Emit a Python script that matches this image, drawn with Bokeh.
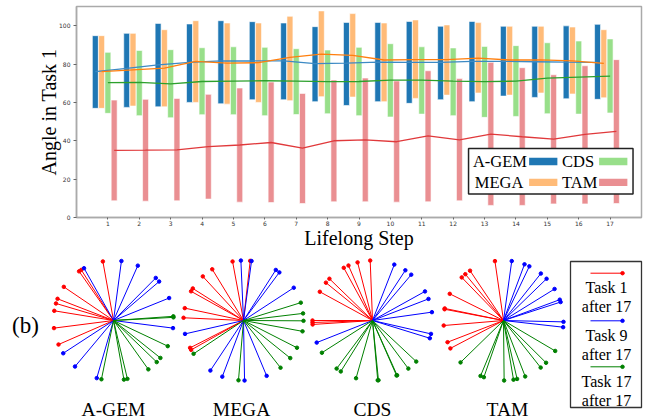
import math
from bokeh.plotting import figure
from bokeh.models import FixedTicker, Label, Range1d
from bokeh.core.properties import value
from bokeh.embed import file_html
from bokeh.resources import INLINE

# ---------------- data: panel (a) ----------------
steps = list(range(1, 18))
step_labels = [str(s) for s in steps]
y_ticks = [0, 20, 40, 60, 80, 100]

agem_top = [94.8, 96.0, 101.2, 100.9, 102.6, 102.1, 101.4, 99.5, 101.7, 101.7, 102.2, 99.7, 102.2, 99.7, 99.7, 99.9, 100.7]
agem_bot = [56.9, 57.4, 57.7, 60.0, 59.3, 61.4, 61.4, 60.4, 58.4, 60.4, 59.5, 61.4, 60.4, 63.3, 62.6, 61.9, 61.6]
agem_mean = [76.0, 77.7, 79.6, 80.9, 81.7, 81.6, 81.7, 80.2, 80.5, 81.0, 80.9, 80.9, 81.4, 81.4, 81.2, 81.0, 80.9]

mega_top = [94.8, 96.0, 97.9, 102.6, 101.4, 101.4, 104.9, 107.7, 106.3, 101.4, 103.0, 100.4, 101.6, 99.7, 99.7, 99.3, 97.9]
mega_bot = [56.9, 58.1, 57.7, 60.0, 59.1, 60.0, 60.9, 63.0, 62.8, 60.4, 62.1, 63.8, 64.9, 63.8, 64.9, 64.4, 62.4]
mega_mean = [76.0, 77.0, 77.9, 81.4, 80.5, 80.7, 83.5, 85.2, 84.5, 82.1, 82.3, 82.3, 83.1, 82.1, 82.2, 81.7, 80.3]

cds_top = [86.1, 87.1, 87.5, 88.5, 89.0, 88.7, 88.0, 87.3, 88.7, 90.6, 89.0, 88.4, 89.2, 89.6, 91.1, 92.0, 93.1]
cds_bot = [54.3, 53.1, 52.0, 53.6, 53.6, 53.1, 53.7, 54.1, 53.1, 52.4, 53.9, 53.1, 52.2, 52.7, 54.1, 53.9, 54.5]
cds_mean = [70.3, 70.4, 69.7, 70.9, 71.1, 71.3, 71.1, 70.8, 70.9, 71.6, 71.6, 71.1, 70.8, 71.1, 72.7, 73.2, 73.7]

tam_top = [61.2, 61.6, 62.1, 64.2, 67.5, 70.6, 64.7, 71.7, 72.7, 71.2, 76.5, 72.4, 80.9, 78.1, 74.4, 79.1, 82.3]
tam_bot = [8.7, 8.5, 8.7, 9.6, 8.0, 7.8, 7.3, 8.2, 8.2, 8.0, 8.2, 8.7, 6.3, 6.3, 7.1, 7.1, 7.3]
tam_mean = [35.0, 35.1, 35.3, 37.0, 37.8, 39.1, 36.2, 40.0, 40.5, 39.5, 42.5, 40.5, 43.5, 42.1, 40.9, 43.3, 44.9]

method_names = ["A-GEM", "MEGA", "CDS", "TAM"]

# ---------------- data: panel (b), directions in degrees ----------------
agem_t1 = [100.2, 122.5, 125.0, 145.9, 158.8, 163.5, 170.7, 187.3, 203.6]
agem_t9 = [119.4, 82.4, 66.1, 45.2, 40.5, 22.0, -7.3, 213.1, 230.1, 253.8]
agem_t17 = [3.0, 4.0, -25.3, -38.6, -43.9, -54.5, -76.6, -80.0, -101.6]

mega_t1 = [100.5, 83.6, 121.4, 132.7, 147.7, 150.9, 168.1, 177.4, 207.1, 209.3]
mega_t9 = [92.5, 82.3, 57.4, 53.3, 33.1, 192.9, 236.5, 249.3, -89.0, -67.3]
mega_t17 = [17.3, 6.8, -0.3, -10.4, -27.0, -38.8, -51.9, -94.8, 213.7]

cds_t1 = [92.2, 104.4, 113.6, 118.6, 135.9, 140.9, 151.4, 180.0, 181.9, 183.8]
cds_t9 = [68.7, 56.8, 49.8, 29.0, 21.1, 8.0, -12.9, -17.2, 201.6]
cds_t17 = [212.5, 233.3, 238.1, 254.1, -85.0, -84.3, -66.4, -65.8, -53.3, -43.2]

tam_t1 = [98.2, 123.9, 129.5, 134.1, 153.6, 168.4, 169.2, 184.8, 201.2, 207.7]
tam_t9 = [82.1, 69.5, 64.5, 51.5, 44.1, 31.7, 20.3, 17.9, -1.3, -6.4]
tam_t17 = [224.3, 247.5, 250.9, -89.4, -80.4, -76.9, -68.8, -51.7, -44.8, -30.5]

task_names = ["Task 1", "Task 9", "Task 17"]

SERIF = "Liberation Serif"

# ================= panel (a) =================
pa = figure(width=649, height=257, output_backend="svg", toolbar_location=None,
            x_range=Range1d(0, 18), y_range=Range1d(0, 110),
            min_border_left=76, min_border_right=8, min_border_top=6, min_border_bottom=40)
pa.grid.visible = False
pa.background_fill_color = "white"
pa.border_fill_color = "white"
pa.outline_line_color = "#aaaaaa"
pa.outline_line_width = 1.5

pa.xaxis.ticker = FixedTicker(ticks=steps)
pa.xaxis.major_label_overrides = {s: l for s, l in zip(steps, step_labels)}
pa.yaxis.ticker = FixedTicker(ticks=y_ticks)
for ax in (pa.xaxis[0], pa.yaxis[0]):
    ax.axis_line_color = "#aaaaaa"
    ax.axis_line_width = 1.5
    ax.major_tick_line_color = "#666666"
    ax.major_tick_out = 2
    ax.major_tick_in = 0
    ax.minor_tick_line_color = None
    ax.major_label_text_font = "DejaVu Sans"
    ax.major_label_text_font_size = "6px"
    ax.major_label_text_color = "#333333"
    ax.major_label_standoff = 1
    ax.axis_label_text_font = SERIF
    ax.axis_label_text_font_size = "20px"
    ax.axis_label_text_font_style = "normal"
    ax.axis_label_text_color = "black"
    ax.axis_label_standoff = -2
pa.yaxis.major_tick_out = 3
pa.yaxis.major_label_standoff = 3
pa.yaxis.axis_label_standoff = -4
pa.xaxis.axis_label = "Lifelong Step"
pa.yaxis.axis_label = "Angle in Task 1"

series = [
    (agem_top, agem_bot, agem_mean, -0.4, "#1f77b4", "#3d8ac4"),
    (mega_top, mega_bot, mega_mean, -0.2, "#ffbb78", "#ff7f0e"),
    (cds_top, cds_bot, cds_mean, 0.0, "#98df8a", "#2ca02c"),
    (tam_top, tam_bot, tam_mean, 0.2, "#ea8f92", "#e0393b"),
]
for top, bot, mean, off, bc, lc in series:
    pa.vbar(x=[s + off for s in steps], top=top, bottom=bot, width=0.19,
            fill_color=bc, line_color="white", line_width=0.6)
for top, bot, mean, off, bc, lc in series:
    pa.line(x=[s + off for s in steps], y=mean, line_color=lc, line_width=1.3)

# legend of panel (a), label first then swatch
pa.quad(left=[12.49], right=[17.73], bottom=[12.2], top=[36.0],
        fill_color="white", line_color="#222222", line_width=1.5)
leg_x_text = [12.63, 15.47, 12.69, 15.47]
leg_y = [29.2, 29.2, 18.3, 18.3]
leg_sw_l = [14.42, 16.65, 14.42, 16.65]
leg_names = ["A-GEM", "CDS", "MEGA", "TAM"]
leg_cols = ["#1f77b4", "#98df8a", "#ffbb78", "#ea8f92"]
pa.text(x=leg_x_text, y=leg_y, text=leg_names, text_font=value(SERIF),
        text_font_size="16.5px", text_align="left", text_baseline="middle", text_color="black")
pa.quad(left=leg_sw_l, right=[v + 0.9 for v in leg_sw_l],
        bottom=[v - 1.9 for v in leg_y], top=[v + 1.9 for v in leg_y],
        fill_color=leg_cols, line_color=None)

pa.add_layout(Label(x=-1.62, y=45.7, text="(a)", text_font=SERIF, text_font_size="23px",
                    text_align="center", text_baseline="middle", text_color="black"))

# ================= panel (b) =================
pb = figure(width=649, height=163, output_backend="svg", toolbar_location=None,
            x_range=Range1d(0, 649), y_range=Range1d(0, 163),
            min_border=0, x_axis_type=None, y_axis_type=None)
pb.grid.visible = False
pb.outline_line_color = None
pb.background_fill_color = "white"
pb.border_fill_color = "white"

centers_x = [113, 243, 372, 503]
center_y = 100
R = 60
label_x = [113, 241, 372, 507]
task_colors = ["#ff0000", "#0000ff", "#008000"]
star_data = [
    [agem_t1, agem_t9, agem_t17],
    [mega_t1, mega_t9, mega_t17],
    [cds_t1, cds_t9, cds_t17],
    [tam_t1, tam_t9, tam_t17],
]
for cx, tasks in zip(centers_x, star_data):
    for angs, col in zip(tasks, task_colors):
        x1 = [cx + R * math.cos(math.radians(a)) for a in angs]
        y1 = [center_y + R * math.sin(math.radians(a)) for a in angs]
        pb.segment(x0=[cx] * len(angs), y0=[center_y] * len(angs), x1=x1, y1=y1,
                   line_color=col, line_width=1.0)
        pb.scatter(x=x1, y=y1, size=3.5, fill_color=col, line_color=col, marker="circle")

pb.text(x=label_x, y=[11] * 4, text=method_names, text_font=value(SERIF),
        text_font_size="19.5px", text_align="center", text_baseline="alphabetic", text_color="black")
pb.text(x=[25], y=[95], text=["(b)"], text_font=value(SERIF), text_font_size="23px",
        text_align="center", text_baseline="middle", text_color="black")

# legend of panel (b)
pb.quad(left=[570], right=[641], bottom=[13], top=[159], fill_color="white",
        line_color="#333333", line_width=1.3)
leg_line_y = [147.3, 99.7, 53.7]
pb.segment(x0=[590] * 3, y0=leg_line_y, x1=[622] * 3, y1=leg_line_y,
           line_color=task_colors, line_width=1.0)
pb.scatter(x=[622] * 3, y=leg_line_y, size=3.5, fill_color=task_colors, line_color=task_colors)
leg_txt = []
leg_txt_y = []
for name, ly in zip(task_names, leg_line_y):
    leg_txt += [name, "after 17"]
    leg_txt_y += [ly - 14.3, ly - 33.3]
pb.text(x=[606] * len(leg_txt), y=leg_txt_y, text=leg_txt, text_font=value(SERIF),
        text_font_size="16px", text_align="center", text_baseline="middle", text_color="black")

open("out.html", "w").write(file_html([pa, pb], INLINE))
